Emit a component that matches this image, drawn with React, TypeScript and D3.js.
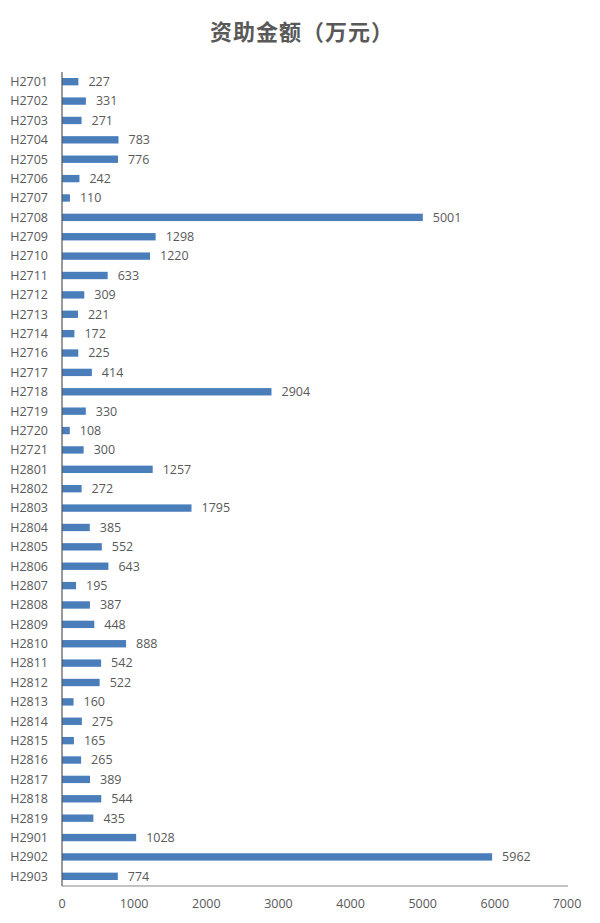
import React from "react";
import * as d3 from "d3";

const categories = [
  "H2701","H2702","H2703","H2704","H2705","H2706","H2707","H2708","H2709","H2710",
  "H2711","H2712","H2713","H2714","H2716","H2717","H2718","H2719","H2720","H2721",
  "H2801","H2802","H2803","H2804","H2805","H2806","H2807","H2808","H2809","H2810",
  "H2811","H2812","H2813","H2814","H2815","H2816","H2817","H2818","H2819","H2901",
  "H2902","H2903",
];
const values = [
  227,331,271,783,776,242,110,5001,1298,1220,
  633,309,221,172,225,414,2904,330,108,300,
  1257,272,1795,385,552,643,195,387,448,888,
  542,522,160,275,165,265,389,544,435,1028,
  5962,774,
];
const xTicks = [0,1000,2000,3000,4000,5000,6000,7000];
const title = "资助金额（万元）";

export default function App() {
  const W = 600, H = 923;
  const left = 62, right = 567, top = 72, bottom = 886;
  const x = d3.scaleLinear().domain([0, 7000]).range([left, right]);
  const y = d3.scaleBand<string>().domain(categories).range([top, bottom]).paddingInner(0.62).paddingOuter(0.31);
  const font = "'Open Sans', 'Liberation Sans', sans-serif";
  const grey = "#595959";
  return (
    <svg width={W} height={H} style={{ position: "absolute", left: 0, top: 0, background: "#fff" }}>
      <text x={302} y={40} textAnchor="middle" fontSize={22} fontWeight="bold" fill={grey} letterSpacing={1}
        fontFamily="'Noto Sans CJK SC', sans-serif">{title}</text>
      {categories.map((c, i) => (
        <g key={c}>
          <rect x={x(0)} y={y(c)!} width={x(values[i]) - x(0)} height={y.bandwidth()} fill="#4a7ebb" />
          <text x={x(values[i]) + 10} y={y(c)! + y.bandwidth() / 2} dy="0.35em" fontSize={12.5} fill={grey} fontFamily={font}>{values[i]}</text>
          <text x={48} y={y(c)! + y.bandwidth() / 2} dy="0.35em" textAnchor="end" fontSize={12.5} fill={grey} fontFamily={font}>{c}</text>
        </g>
      ))}
      <line x1={left} x2={left} y1={top} y2={bottom} stroke="#555" strokeWidth={1.2} />
      <line x1={left} x2={right + 1} y1={bottom} y2={bottom} stroke="#888" strokeWidth={1.2} />
      {xTicks.map(t => (
        <text key={t} x={x(t)} y={908} textAnchor="middle" fontSize={12.5} fill={grey} fontFamily={font}>{t}</text>
      ))}
    </svg>
  );
}
